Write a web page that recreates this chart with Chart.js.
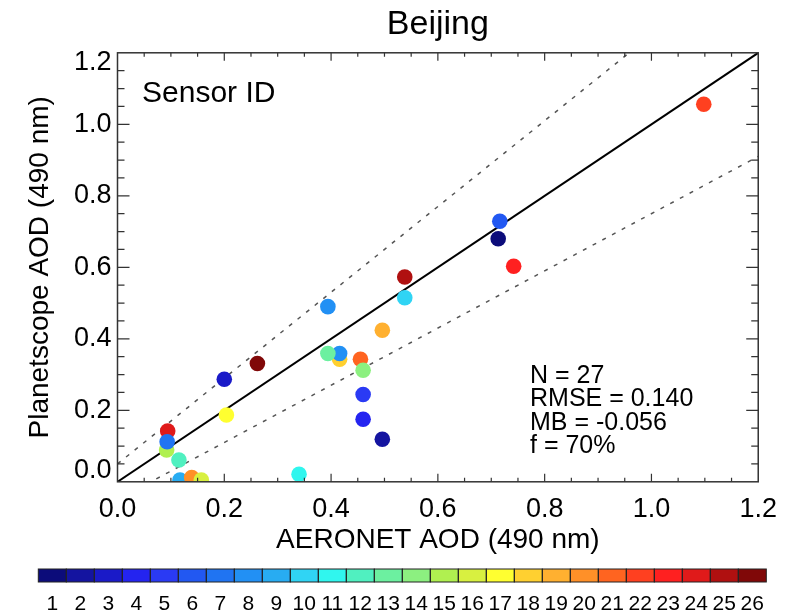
<!DOCTYPE html>
<html>
<head>
<meta charset="utf-8">
<title>Beijing</title>
<script src="https://cdn.jsdelivr.net/npm/chart.js@4.4.1/dist/chart.umd.min.js"></script>
<style>
  html, body { margin: 0; padding: 0; background: #fff; }
  canvas { display: block; }
</style>
</head>
<body>
<canvas id="chart" width="789" height="613"></canvas>
<script>
'use strict';

// ── Data ──────────────────────────────────────────────────────
const AERONET = [1.098, 0.716, 0.713, 0.742, 0.538, 0.538, 0.496, 0.496, 0.460, 0.460,
                 0.455, 0.460, 0.416, 0.416, 0.394, 0.394, 0.262, 0.200, 0.204, 0.094,
                 0.092, 0.093, 0.115, 0.117, 0.139, 0.157, 0.340];
const PLANET  = [1.056, 0.729, 0.680, 0.603, 0.573, 0.515, 0.424, 0.119, 0.244, 0.175,
                 0.343, 0.312, 0.343, 0.359, 0.359, 0.490, 0.331, 0.287, 0.187, 0.142,
                 0.089, 0.112, 0.061, 0.005, 0.012, 0.005, 0.021];
const SENSOR  = [22, 6, 1, 23, 25, 10, 19, 2, 5, 4,
                 21, 14, 18, 8, 13, 8, 26, 3, 17, 24,
                 15, 7, 12, 9, 20, 16, 11];

const SENSOR_IDS = Array.from({ length: 26 }, (_, i) => i + 1);
const PALETTE = [
  '#0c0c7a', '#1414a0', '#1a1ac8', '#2424f0', '#2a3af4', '#2258f2', '#2074f2', '#2290f4',
  '#28acf2', '#30d4f4', '#30f6ee', '#50f0c0', '#6cf0a0', '#8cf080', '#b0f050', '#d8f040',
  '#ffff30', '#ffd030', '#ffb030', '#ff9028', '#ff6420', '#ff4020', '#ff2020', '#e01a1a',
  '#b01010', '#800808'
];

const X_TICKS = [0, 0.2, 0.4, 0.6, 0.8, 1.0, 1.2];
const Y_TICKS = [0, 0.2, 0.4, 0.6, 0.8, 1.0, 1.2];
const MINOR_STEP = 0.05;
const AXIS_MAX = 1.2;

// expected error envelope: ±(0.05 + 0.2·τ)
const EE_OFFSET = 0.05;
const EE_SLOPE = 0.2;

const STATS = ['N = 27', 'RMSE = 0.140', 'MB = -0.056', 'f = 70%'];

// ── Helpers ───────────────────────────────────────────────────
const FONT = '"Liberation Sans", Arial, Helvetica, sans-serif';
Chart.defaults.font.family = FONT;
Chart.defaults.color = '#000';

const points = AERONET.map((x, i) => ({ x, y: PLANET[i] }));
const pointColors = SENSOR.map(id => PALETTE[id - 1]);
const lineOf = (slope, offset) => [
  { x: 0, y: offset },
  { x: AXIS_MAX, y: slope * AXIS_MAX + offset }
];

// ── Frame / inward ticks / labels / colour bar ───────────────
const decor = {
  id: 'decor',
  afterDraw(chart) {
    const { ctx, chartArea: a, scales: { x, y } } = chart;
    ctx.save();

    // frame
    ctx.strokeStyle = '#333';
    ctx.lineWidth = 1.5;
    ctx.strokeRect(a.left, a.top, a.right - a.left, a.bottom - a.top);

    // inward ticks on all four sides
    ctx.lineWidth = 1.2;
    ctx.beginPath();
    const n = Math.round(AXIS_MAX / MINOR_STEP);
    for (let i = 1; i < n; i++) {
      const v = i * MINOR_STEP;
      const major = i % 4 === 0;
      const px = x.getPixelForValue(v);
      const py = y.getPixelForValue(v);
      const hl = major ? 8 : 4;
      const vl = major ? 12 : 7;
      ctx.moveTo(px, a.bottom); ctx.lineTo(px, a.bottom - hl);
      ctx.moveTo(px, a.top);    ctx.lineTo(px, a.top + hl);
      ctx.moveTo(a.left, py);   ctx.lineTo(a.left + vl, py);
      ctx.moveTo(a.right, py);  ctx.lineTo(a.right - vl, py);
    }
    ctx.stroke();

    // y tick labels (end labels kept inside the frame height)
    ctx.fillStyle = '#000';
    ctx.font = `27px ${FONT}`;
    ctx.textAlign = 'right';
    ctx.textBaseline = 'middle';
    Y_TICKS.forEach(v => {
      const py = Math.min(Math.max(y.getPixelForValue(v), a.top + 10), a.bottom - 11);
      ctx.fillText(v.toFixed(1), a.left - 6, py);
    });

    // panel texts
    ctx.textAlign = 'left';
    ctx.textBaseline = 'alphabetic';
    ctx.font = `30px ${FONT}`;
    ctx.fillText('Sensor ID', 142, 102);
    ctx.font = `25px ${FONT}`;
    STATS.forEach((s, i) => ctx.fillText(s, 530, 383 + i * 23.4));

    // colour bar
    const cbX = 38.3, cbY = 569, cbW = 28, cbH = 13;
    SENSOR_IDS.forEach((id, i) => {
      ctx.fillStyle = PALETTE[id - 1];
      ctx.fillRect(cbX + i * cbW, cbY, cbW, cbH);
    });
    ctx.strokeStyle = '#222';
    ctx.lineWidth = 1;
    SENSOR_IDS.forEach((id, i) => ctx.strokeRect(cbX + i * cbW, cbY, cbW, cbH));
    ctx.fillStyle = '#000';
    ctx.font = `21px ${FONT}`;
    ctx.textAlign = 'center';
    ctx.textBaseline = 'middle';
    SENSOR_IDS.forEach((id, i) => ctx.fillText(String(id), cbX + (i + 0.5) * cbW, 604));

    ctx.restore();
  }
};

// ── Chart ─────────────────────────────────────────────────────
const refLine = (data, color, width, dash) => ({
  type: 'line',
  data,
  borderColor: color,
  borderWidth: width,
  borderDash: dash,
  pointRadius: 0,
  fill: false,
  clip: 0,
  order: 1
});

new Chart(document.getElementById('chart'), {
  type: 'scatter',
  data: {
    datasets: [
      {
        data: points,
        pointBackgroundColor: pointColors,
        pointBorderWidth: 0,
        pointRadius: 7.8,
        clip: 0,
        order: 0
      },
      refLine(lineOf(1, 0), '#000', 2, []),
      refLine(lineOf(1 + EE_SLOPE, EE_OFFSET), '#555', 1.5, [4, 7]),
      refLine(lineOf(1 - EE_SLOPE, -EE_OFFSET), '#555', 1.5, [4, 7])
    ]
  },
  plugins: [decor],
  options: {
    responsive: false,
    animation: false,
    events: [],
    layout: { padding: { top: 0, left: 23, right: 29, bottom: 56.2 } },
    plugins: {
      legend: { display: false },
      tooltip: { enabled: false },
      title: {
        display: true,
        fullSize: false,
        text: 'Beijing',
        color: '#000',
        font: { size: 34, weight: 'normal' },
        padding: { top: 4, bottom: 8 }
      }
    },
    scales: {
      x: {
        type: 'linear',
        min: 0,
        max: AXIS_MAX,
        afterBuildTicks: s => { s.ticks = X_TICKS.map(value => ({ value })); },
        afterFit: s => { s.height = 75; },
        ticks: { font: { size: 27 }, color: '#000', padding: 12, maxRotation: 0,
                 callback: v => Number(v).toFixed(1) },
        grid: { display: false, drawTicks: false },
        border: { display: false },
        title: { display: true, text: 'AERONET AOD (490 nm)', color: '#000',
                 font: { size: 28 }, padding: 0 }
      },
      y: {
        type: 'linear',
        min: 0,
        max: AXIS_MAX,
        afterBuildTicks: s => { s.ticks = Y_TICKS.map(value => ({ value })); },
        afterFit: s => { s.width = 94.5; },
        ticks: { display: false },
        grid: { display: false, drawTicks: false },
        border: { display: false },
        title: { display: true, text: 'Planetscope AOD (490 nm)', color: '#000',
                 font: { size: 28 }, padding: 0 }
      }
    }
  }
});
</script>
</body>
</html>
